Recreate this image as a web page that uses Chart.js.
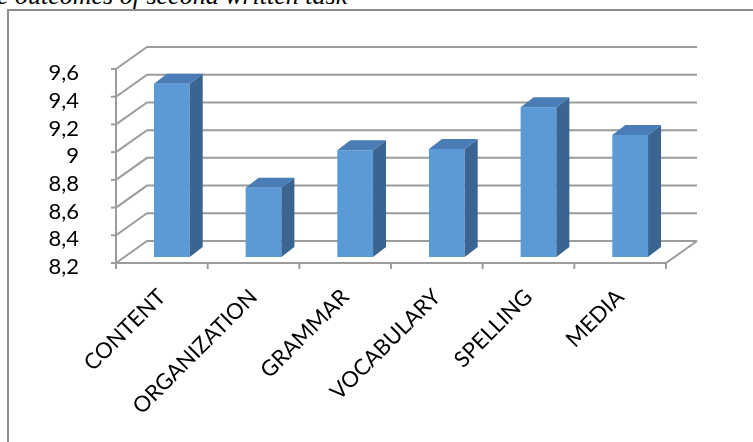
<!DOCTYPE html>
<html lang="en">
<head>
    <meta charset="UTF-8">
    <title>Outcomes of second written task</title>
    <script src="https://cdn.jsdelivr.net/npm/chart.js"></script>
    <style>
        body {
            margin: 0;
            background-color: white;
            overflow: hidden;
        }
        #caption {
            position: absolute;
            left: -3px;
            top: -17px;
            font-family: "Liberation Serif", serif;
            font-style: italic;
            font-size: 26px;
            line-height: 26px;
            white-space: nowrap;
            color: #000;
        }
        #frame {
            position: absolute;
            left: 7px;
            top: 9px;
            width: 800px;
            height: 500px;
            border-left: 2px solid #8c8c8c;
            border-top: 2px solid #8c8c8c;
        }
        #myChart {
            position: absolute;
            left: 0;
            top: 0;
        }
    </style>
</head>
<body>

<div id="caption">e outcomes of second written task</div>
<div id="frame"></div>
<canvas id="myChart" width="753" height="442"></canvas>

<script>
    // chart data
    const categories = ['CONTENT', 'ORGANIZATION', 'GRAMMAR', 'VOCABULARY', 'SPELLING', 'MEDIA'];
    const scores = [9.45, 8.70, 8.97, 8.98, 9.28, 9.08];
    const yTickValues = [8.2, 8.4, 8.6, 8.8, 9.0, 9.2, 9.4, 9.6];
    const yTickLabels = ['8,2', '8,4', '8,6', '8,8', '9', '9,2', '9,4', '9,6'];

    // fake 3d: depth of the wall/floor, where the bars sit, and bar thickness
    const depth = { dx: 31, dy: -22 };
    const barShift = { dx: 10, dy: -6 };
    const barDepth = { dx: 13, dy: -10 };
    const lineColor = '#9c9c9c';

    const box3d = {
        id: 'box3d',
        beforeDatasetsDraw(chart) {
            const ctx = chart.ctx;
            const area = chart.chartArea;
            const y = chart.scales.y;
            const x = chart.scales.x;

            ctx.save();
            ctx.strokeStyle = lineColor;
            ctx.lineWidth = 2;

            // side wall + back wall gridlines
            yTickValues.forEach(v => {
                const py = y.getPixelForValue(v);
                ctx.beginPath();
                ctx.moveTo(area.left, py);
                ctx.lineTo(area.left + depth.dx, py + depth.dy);
                ctx.lineTo(area.right + depth.dx, py + depth.dy);
                ctx.stroke();
                // small tick on the front axis
                ctx.beginPath();
                ctx.moveTo(area.left - 5, py);
                ctx.lineTo(area.left, py);
                ctx.stroke();
            });

            // front vertical axis
            const top = y.getPixelForValue(y.max);
            const bottom = y.getPixelForValue(y.min);
            ctx.beginPath();
            ctx.moveTo(area.left, top);
            ctx.lineTo(area.left, bottom);
            ctx.stroke();

            // floor front edge and right edge
            ctx.beginPath();
            ctx.moveTo(area.left, bottom);
            ctx.lineTo(area.right, bottom);
            ctx.lineTo(area.right + depth.dx, bottom + depth.dy);
            ctx.stroke();

            // category ticks
            for (let i = 0; i <= categories.length; i++) {
                const px = x.getPixelForValue(i - 0.5);
                ctx.beginPath();
                ctx.moveTo(px, bottom);
                ctx.lineTo(px, bottom + 6);
                ctx.stroke();
            }
            ctx.restore();

            // bars sit a bit inside the box
            ctx.save();
            ctx.translate(barShift.dx, barShift.dy);
        },
        afterDatasetsDraw(chart) {
            const ctx = chart.ctx;
            ctx.restore();

            const y = chart.scales.y;
            const floor = y.getPixelForValue(y.min);
            const meta = chart.getDatasetMeta(0);
            meta.data.forEach(bar => {
                const p = bar.getProps(['x', 'y', 'base', 'width'], true);
                const x0 = p.x - p.width / 2 + barShift.dx;
                const x1 = p.x + p.width / 2 + barShift.dx;
                const yt = p.y + barShift.dy;
                const yb = Math.min(p.base, floor) + barShift.dy;

                // right side face
                ctx.fillStyle = '#3a6591';
                ctx.beginPath();
                ctx.moveTo(x1, yt);
                ctx.lineTo(x1 + barDepth.dx, yt + barDepth.dy);
                ctx.lineTo(x1 + barDepth.dx, yb + barDepth.dy);
                ctx.lineTo(x1, yb);
                ctx.closePath();
                ctx.fill();

                // top face
                ctx.fillStyle = '#4a7db5';
                ctx.beginPath();
                ctx.moveTo(x0, yt);
                ctx.lineTo(x0 + barDepth.dx, yt + barDepth.dy);
                ctx.lineTo(x1 + barDepth.dx, yt + barDepth.dy);
                ctx.lineTo(x1, yt);
                ctx.closePath();
                ctx.fill();
            });
        }
    };

    const ctx = document.getElementById('myChart').getContext('2d');
    const myChart = new Chart(ctx, {
        type: 'bar',
        data: {
            labels: categories,
            datasets: [{
                data: scores,
                backgroundColor: '#5b9bd5',
                borderWidth: 0,
                categoryPercentage: 1,
                barPercentage: 0.39
            }]
        },
        options: {
            responsive: false,
            animation: false,
            events: [],
            layout: {
                padding: { left: 0, top: 69, right: 87, bottom: 0 }
            },
            scales: {
                x: {
                    grid: { display: false },
                    border: { display: false },
                    ticks: {
                        minRotation: 45,
                        maxRotation: 45,
                        autoSkip: false,
                        padding: 13,
                        color: '#000',
                        font: { family: 'Lato', size: 22 }
                    },
                    afterFit(scale) {
                        scale.height = 179;
                    }
                },
                y: {
                    min: 8.2,
                    max: 9.6,
                    grid: { display: false },
                    border: { display: false },
                    afterBuildTicks(scale) {
                        scale.ticks = yTickValues.map(v => ({ value: v }));
                    },
                    ticks: {
                        autoSkip: false,
                        padding: 29,
                        labelOffset: 4,
                        color: '#000',
                        font: { family: 'Lato', size: 22 },
                        callback: (value, index) => yTickLabels[index]
                    },
                    afterFit(scale) {
                        scale.width = 116;
                    }
                }
            },
            plugins: {
                legend: { display: false },
                tooltip: { enabled: false },
                title: { display: false }
            }
        },
        plugins: [box3d]
    });
</script>
</body>
</html>
